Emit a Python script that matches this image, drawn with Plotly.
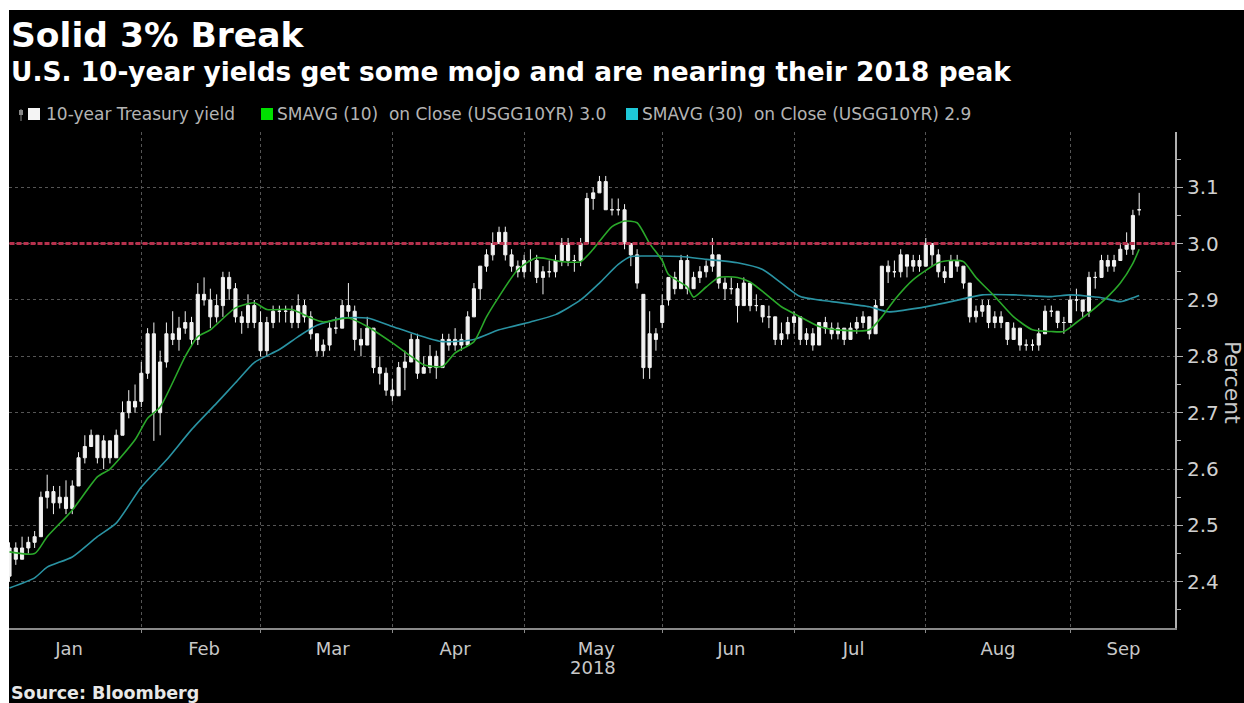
import plotly.graph_objects as go

# ---------------- data ----------------
TITLE = "Solid 3% Break"
SUBTITLE = "U.S. 10-year yields get some mojo and are nearing their 2018 peak"
SOURCE = "Source: Bloomberg"
LEGEND_LABELS = ["10-year Treasury yield",
                 "SMAVG (10)  on Close (USGG10YR) 3.0",
                 "SMAVG (30)  on Close (USGG10YR) 2.9"]
YEAR_LABEL = "2018"
Y_TITLE = "Percent"
THRESHOLD = 3.0

dates = [
    "2018-01-02", "2018-01-03", "2018-01-04", "2018-01-05", "2018-01-08", "2018-01-09", "2018-01-10",
    "2018-01-11", "2018-01-12", "2018-01-16", "2018-01-17", "2018-01-18", "2018-01-19", "2018-01-22",
    "2018-01-23", "2018-01-24", "2018-01-25", "2018-01-26", "2018-01-29", "2018-01-30", "2018-01-31",
    "2018-02-01", "2018-02-02", "2018-02-05", "2018-02-06", "2018-02-07", "2018-02-08", "2018-02-09",
    "2018-02-12", "2018-02-13", "2018-02-14", "2018-02-15", "2018-02-16", "2018-02-20", "2018-02-21",
    "2018-02-22", "2018-02-23", "2018-02-26", "2018-02-27", "2018-02-28",
    "2018-03-01", "2018-03-02", "2018-03-05", "2018-03-06", "2018-03-07", "2018-03-08", "2018-03-09",
    "2018-03-12", "2018-03-13", "2018-03-14", "2018-03-15", "2018-03-16", "2018-03-19", "2018-03-20",
    "2018-03-21", "2018-03-22", "2018-03-23", "2018-03-26", "2018-03-27", "2018-03-28", "2018-03-29",
    "2018-04-02", "2018-04-03", "2018-04-04", "2018-04-05", "2018-04-06", "2018-04-09", "2018-04-10",
    "2018-04-11", "2018-04-12", "2018-04-13", "2018-04-16", "2018-04-17", "2018-04-18", "2018-04-19",
    "2018-04-20", "2018-04-23", "2018-04-24", "2018-04-25", "2018-04-26", "2018-04-27", "2018-04-30",
    "2018-05-01", "2018-05-02", "2018-05-03", "2018-05-04", "2018-05-07", "2018-05-08", "2018-05-09",
    "2018-05-10", "2018-05-11", "2018-05-14", "2018-05-15", "2018-05-16", "2018-05-17", "2018-05-18",
    "2018-05-21", "2018-05-22", "2018-05-23", "2018-05-24", "2018-05-25", "2018-05-29", "2018-05-30",
    "2018-05-31",
    "2018-06-01", "2018-06-04", "2018-06-05", "2018-06-06", "2018-06-07", "2018-06-08", "2018-06-11",
    "2018-06-12", "2018-06-13", "2018-06-14", "2018-06-15", "2018-06-18", "2018-06-19", "2018-06-20",
    "2018-06-21", "2018-06-22", "2018-06-25", "2018-06-26", "2018-06-27", "2018-06-28", "2018-06-29",
    "2018-07-02", "2018-07-03", "2018-07-05", "2018-07-06", "2018-07-09", "2018-07-10", "2018-07-11",
    "2018-07-12", "2018-07-13", "2018-07-16", "2018-07-17", "2018-07-18", "2018-07-19", "2018-07-20",
    "2018-07-23", "2018-07-24", "2018-07-25", "2018-07-26", "2018-07-27", "2018-07-30", "2018-07-31",
    "2018-08-01", "2018-08-02", "2018-08-03", "2018-08-06", "2018-08-07", "2018-08-08", "2018-08-09",
    "2018-08-10", "2018-08-13", "2018-08-14", "2018-08-15", "2018-08-16", "2018-08-17", "2018-08-20",
    "2018-08-21", "2018-08-22", "2018-08-23", "2018-08-24", "2018-08-27", "2018-08-28", "2018-08-29",
    "2018-08-30", "2018-08-31",
    "2018-09-04", "2018-09-05", "2018-09-06", "2018-09-07", "2018-09-10", "2018-09-11", "2018-09-12",
    "2018-09-13", "2018-09-14", "2018-09-17", "2018-09-18", "2018-09-19",
]

open_ = [
    2.41, 2.46, 2.44, 2.46, 2.47, 2.48, 2.55, 2.56, 2.54, 2.55, 2.53, 2.57, 2.62, 2.64, 2.66, 2.62, 2.65, 2.62, 2.66, 2.70, 2.72,
    2.72, 2.77, 2.84, 2.70, 2.79, 2.84, 2.83, 2.85, 2.86, 2.83, 2.91, 2.90, 2.87, 2.89, 2.94, 2.92, 2.87, 2.86, 2.89,
    2.86, 2.81, 2.86, 2.88, 2.88, 2.88, 2.86, 2.89, 2.87, 2.84, 2.81, 2.82, 2.85, 2.85, 2.89, 2.88, 2.83, 2.82, 2.85, 2.78, 2.77,
    2.74, 2.73, 2.78, 2.79, 2.83, 2.77, 2.78, 2.80, 2.78, 2.83, 2.82, 2.83, 2.82, 2.87, 2.92, 2.96, 2.98, 3.00, 3.02, 2.98, 2.96,
    2.95, 2.97, 2.97, 2.94, 2.95, 2.95, 2.97, 3.00, 2.97, 2.97, 3.00, 3.08, 3.09, 3.11, 3.06, 3.06, 3.06, 3.00, 2.98, 2.91, 2.78, 2.84,
    2.86, 2.90, 2.94, 2.92, 2.97, 2.92, 2.94, 2.95, 2.96, 2.98, 2.93, 2.92, 2.92, 2.89, 2.93, 2.89, 2.89, 2.87, 2.87, 2.83, 2.84,
    2.86, 2.87, 2.83, 2.84, 2.82, 2.86, 2.85, 2.84, 2.85, 2.83, 2.85, 2.86, 2.87, 2.84, 2.89, 2.96, 2.95, 2.95, 2.98, 2.96, 2.97,
    2.96, 3.00, 2.98, 2.95, 2.94, 2.97, 2.96, 2.93, 2.87, 2.88, 2.89, 2.86, 2.87, 2.86, 2.83, 2.85, 2.82, 2.82, 2.82, 2.84, 2.88, 2.88, 2.86,
    2.86, 2.90, 2.90, 2.88, 2.94, 2.94, 2.97, 2.96, 2.97, 2.99, 2.99, 3.06,
]

high = [
    2.47, 2.47, 2.48, 2.48, 2.49, 2.56, 2.59, 2.57, 2.57, 2.58, 2.58, 2.63, 2.66, 2.67, 2.66, 2.66, 2.65, 2.67, 2.72, 2.74, 2.75,
    2.79, 2.85, 2.86, 2.81, 2.86, 2.88, 2.87, 2.88, 2.87, 2.93, 2.94, 2.92, 2.91, 2.95, 2.95, 2.93, 2.88, 2.91, 2.90,
    2.88, 2.87, 2.89, 2.89, 2.89, 2.89, 2.91, 2.90, 2.88, 2.84, 2.83, 2.86, 2.87, 2.90, 2.93, 2.89, 2.85, 2.87, 2.85, 2.80, 2.78,
    2.76, 2.79, 2.81, 2.84, 2.84, 2.80, 2.82, 2.81, 2.84, 2.84, 2.85, 2.84, 2.88, 2.93, 2.96, 2.99, 3.02, 3.03, 3.03, 2.99, 2.97,
    2.98, 2.99, 2.98, 2.96, 2.97, 2.98, 3.01, 3.01, 2.98, 3.01, 3.09, 3.10, 3.12, 3.12, 3.08, 3.08, 3.07, 3.00, 2.99, 2.91, 2.88, 2.85,
    2.91, 2.94, 2.95, 2.98, 2.98, 2.95, 2.96, 2.97, 3.01, 2.98, 2.94, 2.94, 2.93, 2.94, 2.93, 2.91, 2.89, 2.89, 2.87, 2.86, 2.87,
    2.88, 2.87, 2.85, 2.85, 2.86, 2.87, 2.86, 2.86, 2.85, 2.86, 2.87, 2.88, 2.87, 2.90, 2.96, 2.97, 2.97, 2.99, 2.98, 2.98, 2.98,
    3.01, 3.00, 2.99, 2.96, 2.98, 2.98, 2.96, 2.93, 2.89, 2.90, 2.90, 2.88, 2.88, 2.86, 2.86, 2.85, 2.83, 2.83, 2.85, 2.89, 2.89, 2.88, 2.87,
    2.91, 2.92, 2.90, 2.95, 2.95, 2.98, 2.98, 2.98, 3.00, 3.02, 3.06, 3.09,
]

low = [
    2.40, 2.43, 2.44, 2.45, 2.46, 2.48, 2.53, 2.52, 2.53, 2.52, 2.52, 2.57, 2.61, 2.64, 2.61, 2.60, 2.61, 2.62, 2.66, 2.69, 2.70,
    2.71, 2.76, 2.65, 2.66, 2.78, 2.82, 2.81, 2.84, 2.82, 2.82, 2.89, 2.85, 2.86, 2.87, 2.90, 2.86, 2.84, 2.85, 2.85,
    2.80, 2.80, 2.85, 2.86, 2.86, 2.85, 2.85, 2.86, 2.83, 2.80, 2.80, 2.81, 2.84, 2.85, 2.87, 2.81, 2.80, 2.82, 2.77, 2.75, 2.73,
    2.72, 2.73, 2.74, 2.79, 2.76, 2.77, 2.77, 2.76, 2.78, 2.81, 2.81, 2.81, 2.82, 2.87, 2.90, 2.95, 2.97, 3.00, 2.97, 2.95, 2.94,
    2.94, 2.95, 2.93, 2.91, 2.94, 2.94, 2.96, 2.96, 2.95, 2.96, 3.00, 3.06, 3.09, 3.06, 3.05, 3.05, 2.99, 2.96, 2.92, 2.76, 2.76, 2.81,
    2.85, 2.89, 2.91, 2.92, 2.91, 2.92, 2.93, 2.94, 2.95, 2.92, 2.90, 2.91, 2.86, 2.89, 2.88, 2.88, 2.86, 2.85, 2.82, 2.82, 2.83,
    2.84, 2.82, 2.82, 2.81, 2.82, 2.84, 2.83, 2.83, 2.82, 2.83, 2.84, 2.85, 2.83, 2.84, 2.89, 2.93, 2.94, 2.94, 2.94, 2.95, 2.95,
    2.96, 2.96, 2.94, 2.93, 2.94, 2.95, 2.92, 2.86, 2.86, 2.87, 2.85, 2.85, 2.85, 2.82, 2.83, 2.81, 2.81, 2.81, 2.81, 2.84, 2.87, 2.85, 2.84,
    2.86, 2.88, 2.87, 2.87, 2.92, 2.94, 2.95, 2.95, 2.97, 2.98, 2.98, 3.05,
]

close = [
    2.46, 2.44, 2.46, 2.47, 2.48, 2.55, 2.56, 2.54, 2.55, 2.53, 2.57, 2.62, 2.64, 2.66, 2.62, 2.65, 2.62, 2.66, 2.70, 2.72, 2.71,
    2.77, 2.84, 2.70, 2.79, 2.84, 2.83, 2.85, 2.86, 2.83, 2.91, 2.90, 2.87, 2.89, 2.94, 2.92, 2.87, 2.86, 2.89, 2.86,
    2.81, 2.86, 2.88, 2.88, 2.88, 2.86, 2.89, 2.87, 2.84, 2.81, 2.82, 2.85, 2.85, 2.89, 2.88, 2.83, 2.82, 2.85, 2.78, 2.77, 2.74,
    2.73, 2.78, 2.79, 2.83, 2.77, 2.78, 2.80, 2.78, 2.83, 2.82, 2.83, 2.82, 2.87, 2.92, 2.96, 2.98, 3.00, 3.02, 2.98, 2.96, 2.95,
    2.97, 2.97, 2.94, 2.95, 2.95, 2.97, 3.00, 2.97, 2.97, 3.00, 3.08, 3.09, 3.11, 3.06, 3.06, 3.06, 3.00, 2.98, 2.93, 2.78, 2.84, 2.83,
    2.89, 2.94, 2.92, 2.97, 2.92, 2.94, 2.95, 2.96, 2.98, 2.93, 2.92, 2.92, 2.89, 2.93, 2.89, 2.89, 2.87, 2.87, 2.83, 2.84, 2.86,
    2.87, 2.83, 2.84, 2.82, 2.86, 2.85, 2.84, 2.85, 2.83, 2.85, 2.86, 2.87, 2.84, 2.89, 2.96, 2.95, 2.95, 2.98, 2.96, 2.97, 2.96,
    3.00, 2.98, 2.95, 2.94, 2.97, 2.96, 2.93, 2.87, 2.88, 2.89, 2.86, 2.87, 2.86, 2.83, 2.85, 2.82, 2.82, 2.82, 2.84, 2.88, 2.88, 2.86, 2.86,
    2.90, 2.90, 2.88, 2.94, 2.94, 2.97, 2.96, 2.97, 2.99, 3.00, 3.05, 3.06,
]

sma10_dates = [
    "2018-01-02", "2018-01-08", "2018-01-10", "2018-01-17", "2018-01-23", "2018-01-25", "2018-01-31",
    "2018-02-02", "2018-02-06", "2018-02-12", "2018-02-14", "2018-02-16", "2018-02-23", "2018-02-28",
    "2018-03-02", "2018-03-08", "2018-03-13", "2018-03-15", "2018-03-21", "2018-03-26",
    "2018-04-02", "2018-04-05", "2018-04-09", "2018-04-12", "2018-04-16", "2018-04-19", "2018-04-23",
    "2018-04-25", "2018-04-30", "2018-05-03", "2018-05-09", "2018-05-14", "2018-05-16", "2018-05-21",
    "2018-05-23", "2018-05-25", "2018-05-30", "2018-06-01", "2018-06-04", "2018-06-07", "2018-06-08",
    "2018-06-12", "2018-06-14", "2018-06-19", "2018-06-21", "2018-06-26", "2018-06-28", "2018-07-03",
    "2018-07-09", "2018-07-12", "2018-07-19", "2018-07-23", "2018-07-25", "2018-07-30", "2018-08-03",
    "2018-08-07", "2018-08-09", "2018-08-13", "2018-08-16", "2018-08-21", "2018-08-24", "2018-08-29",
    "2018-08-31", "2018-09-05", "2018-09-07", "2018-09-12", "2018-09-14", "2018-09-18", "2018-09-19",
]
sma10 = [
    2.453, 2.450, 2.480, 2.527, 2.586, 2.600, 2.652,
    2.690, 2.710, 2.800, 2.835, 2.847, 2.886, 2.895,
    2.883, 2.883, 2.868, 2.861, 2.868, 2.853,
    2.824, 2.800, 2.785, 2.782, 2.806, 2.826, 2.870,
    2.906, 2.954, 2.975, 2.968, 2.968, 2.990, 3.030,
    3.040, 3.037, 3.000, 2.970, 2.945, 2.923, 2.905,
    2.923, 2.940, 2.940, 2.932, 2.906, 2.888, 2.870,
    2.853, 2.847, 2.847, 2.870, 2.900, 2.936, 2.966,
    2.970, 2.968, 2.940, 2.906, 2.870, 2.847, 2.844,
    2.844, 2.860, 2.877, 2.906, 2.930, 2.965, 2.990,
]

sma30_dates = [
    "2018-01-02", "2018-01-08", "2018-01-10", "2018-01-17", "2018-01-23", "2018-01-26", "2018-02-01",
    "2018-02-07", "2018-02-13", "2018-02-20", "2018-02-23", "2018-02-28", "2018-03-06", "2018-03-09",
    "2018-03-14", "2018-03-20", "2018-03-26", "2018-04-02", "2018-04-06", "2018-04-12", "2018-04-19",
    "2018-04-25", "2018-05-02", "2018-05-08", "2018-05-14", "2018-05-17", "2018-05-22", "2018-05-24",
    "2018-05-30", "2018-06-06", "2018-06-12", "2018-06-19", "2018-06-25", "2018-06-28", "2018-07-03",
    "2018-07-11", "2018-07-19", "2018-07-24", "2018-07-31", "2018-08-07", "2018-08-14", "2018-08-21",
    "2018-08-29", "2018-09-04", "2018-09-11", "2018-09-14", "2018-09-18", "2018-09-19",
]
sma30 = [
    2.389, 2.407, 2.426, 2.444, 2.480, 2.504, 2.568,
    2.616, 2.670, 2.717, 2.753, 2.789, 2.812, 2.835,
    2.855, 2.868, 2.868, 2.853, 2.838, 2.826, 2.830,
    2.847, 2.861, 2.874, 2.900, 2.930, 2.963, 2.977,
    2.978, 2.977, 2.972, 2.966, 2.954, 2.930, 2.906,
    2.897, 2.888, 2.879, 2.886, 2.897, 2.909, 2.909,
    2.906, 2.909, 2.904, 2.897, 2.904, 2.908,
]

HOLIDAYS = ["2018-01-01", "2018-01-15", "2018-02-19", "2018-03-30",
            "2018-05-28", "2018-07-04", "2018-09-03"]
X_START = "2017-12-29 22:00"
X_END = "2018-09-26 17:00"
Y_RANGE = [2.318, 3.198]

# ---------------- layout helpers ----------------
W, H = 1244, 703
ML, MR, MT, MB = 9, 69, 132, 75
PW, PH = W - ML - MR, H - MT - MB


def px(x):
    return (x - ML) / PW


def py(y):
    return 1 - (y - MT) / PH


FONT = "DejaVu Sans"
TEXT_GRAY = "#c8c8c8"
GREEN_LINE = "#2aa82a"
TEAL_LINE = "#2a93a3"
GREEN_KEY = "#00e000"
TEAL_KEY = "#1ec8d8"
RED = "#b7314d"

fig = go.Figure()

fig.add_trace(go.Candlestick(
    x=dates, open=open_, high=high, low=low, close=close,
    increasing=dict(line=dict(color="#f2f2f2", width=1), fillcolor="#f2f2f2"),
    decreasing=dict(line=dict(color="#f2f2f2", width=1), fillcolor="#f2f2f2"),
    whiskerwidth=0, showlegend=False, hoverinfo="skip",
))
fig.add_trace(go.Scatter(x=sma30_dates, y=sma30, mode="lines",
                         line=dict(color=TEAL_LINE, width=1.6, shape="spline", smoothing=0.6),
                         showlegend=False, hoverinfo="skip"))
fig.add_trace(go.Scatter(x=sma10_dates, y=sma10, mode="lines",
                         line=dict(color=GREEN_LINE, width=1.6, shape="spline", smoothing=0.6),
                         showlegend=False, hoverinfo="skip"))

shapes = [
    # 3% threshold line
    dict(type="line", xref="x", yref="y", x0=dates[0], x1=X_END, y0=THRESHOLD, y1=THRESHOLD,
         line=dict(color=RED, width=3, dash="5px,2px"), layer="above"),
    # white frame (top and left edges of the original picture)
    dict(type="rect", xref="paper", yref="paper", x0=px(0), x1=px(W), y0=py(0), y1=py(10),
         fillcolor="white", line=dict(width=0), layer="above"),
    dict(type="rect", xref="paper", yref="paper", x0=px(0), x1=px(9), y0=py(0), y1=py(H),
         fillcolor="white", line=dict(width=0), layer="above"),
    # legend keys
    dict(type="line", xref="paper", yref="paper", x0=px(21), x1=px(21), y0=py(109), y1=py(121),
         line=dict(color="#888888", width=1)),
    dict(type="rect", xref="paper", yref="paper", x0=px(19), x1=px(23), y0=py(110), y1=py(115),
         fillcolor="#888888", line=dict(width=0)),
    dict(type="rect", xref="paper", yref="paper", x0=px(28), x1=px(40), y0=py(108), y1=py(120),
         fillcolor="#f4f4f4", line=dict(width=0)),
    dict(type="rect", xref="paper", yref="paper", x0=px(261), x1=px(273), y0=py(108), y1=py(120),
         fillcolor=GREEN_KEY, line=dict(width=0)),
    dict(type="rect", xref="paper", yref="paper", x0=px(626), x1=px(638), y0=py(108), y1=py(120),
         fillcolor=TEAL_KEY, line=dict(width=0)),
]

annotations = [
    dict(text="<b>" + TITLE + "</b>", x=px(9), y=py(35), xanchor="left", yanchor="middle",
         font=dict(family=FONT, size=34.5, color="white")),
    dict(text="<b>" + SUBTITLE + "</b>", x=px(9), y=py(72), xanchor="left", yanchor="middle",
         font=dict(family=FONT, size=26.4, color="white")),
    dict(text=LEGEND_LABELS[0], x=px(44), y=py(114), xanchor="left", yanchor="middle",
         font=dict(family=FONT, size=17, color="#b4b4b4")),
    dict(text=LEGEND_LABELS[1].replace("  ", "&nbsp; "), x=px(275), y=py(114), xanchor="left", yanchor="middle",
         font=dict(family=FONT, size=17, color="#b4b4b4")),
    dict(text=LEGEND_LABELS[2].replace("  ", "&nbsp; "), x=px(640), y=py(114), xanchor="left", yanchor="middle",
         font=dict(family=FONT, size=17, color="#b4b4b4")),
    dict(text="<b>" + SOURCE + "</b>", x=px(9), y=py(693), xanchor="left", yanchor="middle",
         font=dict(family=FONT, size=17.5, color="#e8e8e8")),
    dict(text=YEAR_LABEL, x=px(593), y=py(667), xanchor="center", yanchor="middle",
         font=dict(family=FONT, size=18, color=TEXT_GRAY)),
    dict(text=Y_TITLE, x=px(1233), y=py(382), xanchor="center", yanchor="middle", textangle=90,
         font=dict(family=FONT, size=22, color=TEXT_GRAY)),
]
for a in annotations:
    a.update(xref="paper", yref="paper", showarrow=False)

fig.update_layout(
    width=W, height=H,
    margin=dict(l=ML, r=MR, t=MT, b=MB),
    paper_bgcolor="black", plot_bgcolor="black",
    font=dict(family=FONT, color=TEXT_GRAY),
    showlegend=False,
    shapes=shapes, annotations=annotations,
    xaxis=dict(
        type="date", range=[X_START, X_END],
        rangebreaks=[dict(bounds=["sat", "mon"]), dict(values=HOLIDAYS)],
        rangeslider=dict(visible=False),
        dtick="M1", tick0="2018-01-01", tickformat="%b", ticklabelmode="period",
        showgrid=True, gridcolor="#555555", griddash="dot", gridwidth=1,
        ticks="outside", ticklen=3, tickcolor="#8a8a8a",
        showline=True, linecolor="#8a8a8a", linewidth=2,
        tickfont=dict(family=FONT, size=18, color=TEXT_GRAY),
        zeroline=False, fixedrange=True,
    ),
    yaxis=dict(
        side="right", range=Y_RANGE,
        tick0=2.4, dtick=0.1, tickformat=".1f",
        showgrid=True, gridcolor="#555555", griddash="dot", gridwidth=1,
        ticks="outside", ticklen=6, tickcolor="#b0b0b0",
        minor=dict(dtick=0.05, tick0=2.35, ticks="outside", ticklen=4, tickcolor="#b0b0b0", showgrid=False),
        showline=True, linecolor="#b0b0b0", linewidth=2,
        tickfont=dict(family=FONT, size=20, color="#d0d0d0"),
        zeroline=False, fixedrange=True,
    ),
)

fig.write_html("out.html",
               config={"displayModeBar": False, "staticPlot": True},
               post_script="document.body.style.margin='0px';document.body.style.overflow='hidden';")
